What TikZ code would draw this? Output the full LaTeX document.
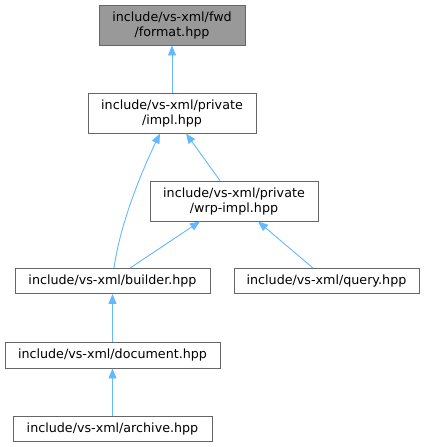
\documentclass[tikz,border=0pt]{standalone}
\usepackage{fontspec}
\setmainfont{DejaVu Sans}
\usetikzlibrary{arrows.meta}
\definecolor{edgeblue}{HTML}{63B8FF}
\definecolor{boxborder}{HTML}{666666}
\definecolor{boxgray}{HTML}{999999}
\tikzset{
  filebox/.style={draw=boxborder, line width=0.9pt, fill=white, inner sep=0pt, align=center, font=\fontsize{12.7}{15}\selectfont},
  dep/.style={draw=edgeblue, line width=0.9pt, {Triangle[length=10pt,width=8pt]}-},
}
\begin{document}
\begin{tikzpicture}[x=1pt,y=-1pt]
\useasboundingbox (0,0) rectangle (425,447);
\node[filebox, fill=boxgray, minimum width=146pt, minimum height=40pt] (fmt) at (172,25) {include/vs-xml/fwd\\/format.hpp};
\node[filebox, minimum width=168pt, minimum height=40pt] (impl) at (172,113) {include/vs-xml/private\\/impl.hpp};
\node[filebox, minimum width=168pt, minimum height=40pt] (wrp) at (234,201) {include/vs-xml/private\\/wrp-impl.hpp};
\node[filebox, minimum width=195pt, minimum height=25pt] (bld) at (112.5,281) {include/vs-xml/builder.hpp};
\node[filebox, minimum width=185pt, minimum height=25pt] (qry) at (326.5,281) {include/vs-xml/query.hpp};
\node[filebox, minimum width=215pt, minimum height=26pt] (doc) at (112.5,355) {include/vs-xml/document.hpp};
\node[filebox, minimum width=199pt, minimum height=25pt] (arc) at (112.5,428.5) {include/vs-xml/archive.hpp};

\draw[dep] (fmt.south) -- (impl.north);
\draw[dep] (impl.south -| 160,0) .. controls (140,175) and (120,225) .. (bld.north -| 114,0);
\draw[dep] (impl.south -| 186,0) -- (wrp.north -| 220,0);
\draw[dep] (wrp.south -| 200,0) -- (bld.north -| 130,0);
\draw[dep] (wrp.south -| 258,0) -- (qry.north -| 313,0);
\draw[dep] (bld.south) -- (doc.north);
\draw[dep] (doc.south) -- (arc.north);
\end{tikzpicture}
\end{document}
